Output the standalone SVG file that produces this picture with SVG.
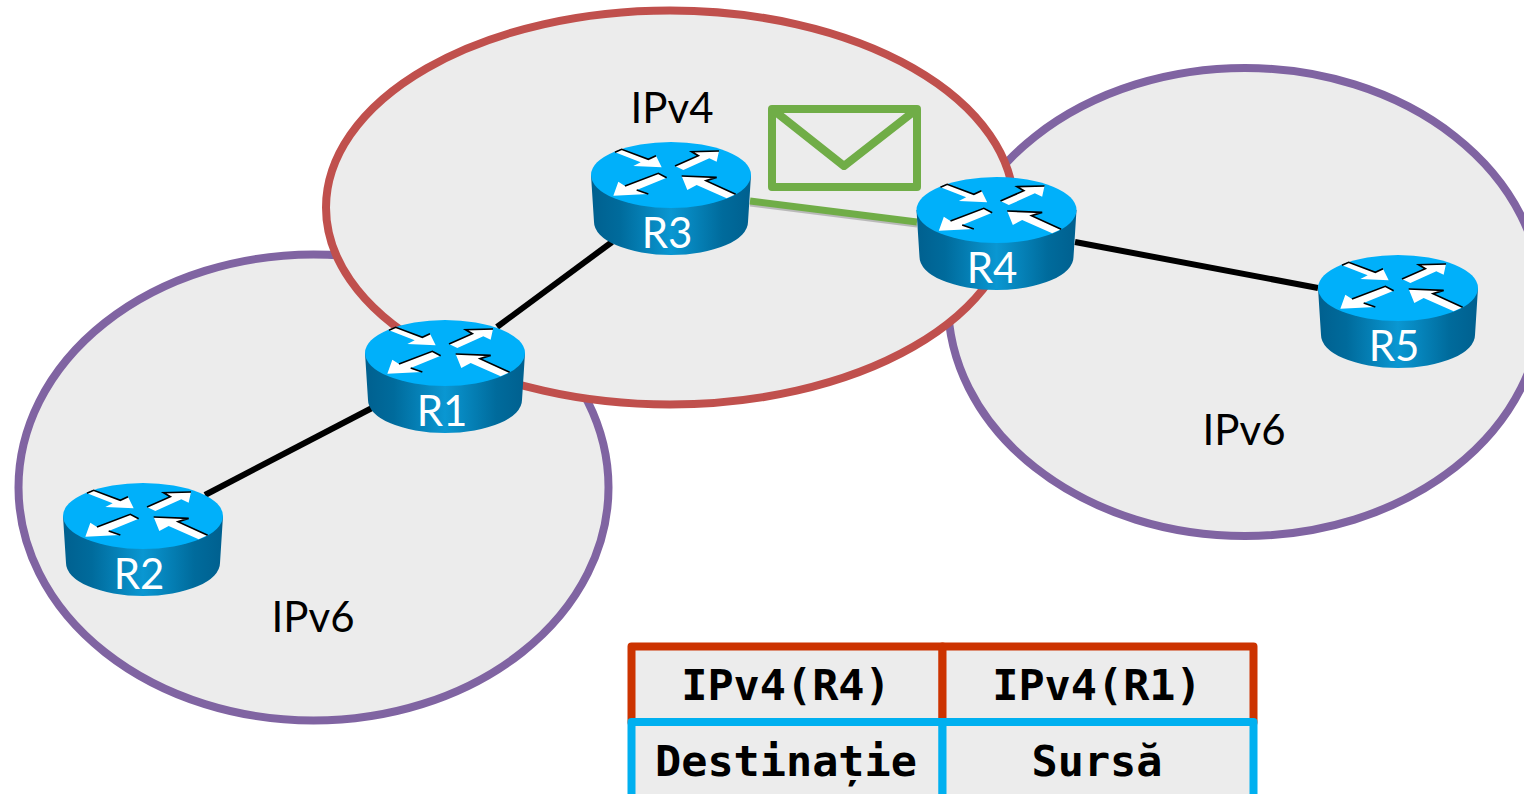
<svg xmlns="http://www.w3.org/2000/svg" width="1524" height="794" viewBox="0 0 1524 794">
<style>
.zone{fill:#ececec;stroke-width:8}
.v6{stroke:#8064a2}
.v4{stroke:#c0504d}
.lbl{font-family:Lato,"Open Sans",sans-serif;font-size:42px;text-anchor:middle;fill:#000}
.rl{font-family:Lato,"Open Sans",sans-serif;font-size:42px;text-anchor:middle;fill:#fff}
.mono{font-family:"DejaVu Sans Mono","Liberation Mono",monospace;font-weight:bold;font-size:43.5px;text-anchor:middle;fill:#000}
.link{stroke:#000;stroke-width:6;fill:none}
.cell{fill:#ececec;stroke-width:8;stroke-linejoin:round}
</style>
<defs>
<linearGradient id="body" x1="0" x2="1" y1="0" y2="0">
<stop offset="0" stop-color="#00608f"/>
<stop offset="0.18" stop-color="#006b9c"/>
<stop offset="0.5" stop-color="#0a97d2"/>
<stop offset="0.82" stop-color="#006b9c"/>
<stop offset="1" stop-color="#00608f"/>
</linearGradient>
<g id="router">
<path d="M-80,0 L-77,47 A77,33 0 0 0 77,47 L80,0 Z" fill="url(#body)"/>
<ellipse cx="0" cy="0" rx="80" ry="33" fill="#00b0fa"/>
<g transform="scale(0.3333) translate(-303,-255)">
<path d="M135,187 L155,178 L235,208 L258,197 L275,232 L190,228 L212,217 Z" fill="#fff"/>
<path d="M135,187 L155,178 L235,208 L258,197" fill="none" stroke="#000" stroke-width="5"/>
<path d="M315,228 L385,197 L365,185 L447,183 L440,215 L418,205 L340,240 Z" fill="#fff"/>
<path d="M315,228 L385,197 L365,185 L447,183" fill="none" stroke="#000" stroke-width="5"/>
<path d="M130,317 L145,275 L165,288 L265,250 L290,263 L200,300 L235,312 Z" fill="#fff"/>
<path d="M165,288 L265,250 L290,263 M200,300 L235,312" fill="none" stroke="#000" stroke-width="5"/>
<path d="M335,258 L440,262 L408,272 L497,313 L470,325 L380,285 L352,300 Z" fill="#fff"/>
<path d="M335,258 L440,262 L408,272 L497,313" fill="none" stroke="#000" stroke-width="5"/>
</g>
</g>
</defs>
<rect width="1524" height="794" fill="#fff"/>
<g id="zones">
<ellipse id="ipv6-left" class="zone v6" cx="313.5" cy="487.5" rx="295" ry="233"/>
<ellipse id="ipv6-right" class="zone v6" cx="1245" cy="302" rx="297" ry="234"/>
<ellipse id="ipv4-zone" class="zone v4" cx="670" cy="207.5" rx="344" ry="197"/>
</g>
<text class="lbl" x="672" y="123">IPv4</text>
<text class="lbl" x="313" y="632">IPv6</text>
<text class="lbl" x="1244" y="445">IPv6</text>
<g id="connectors">
<line class="link" x1="205" y1="495" x2="372" y2="408"/>
<line class="link" x1="497" y1="327" x2="612" y2="242"/>
<line class="link" x1="1075" y1="242" x2="1318" y2="288"/>
<line x1="750" y1="205" x2="917" y2="226" stroke="#888" stroke-width="3" opacity="0.5"/>
<line x1="750" y1="201" x2="917" y2="222" stroke="#70ad47" stroke-width="7"/>
</g>
<g id="envelope" fill="none" stroke="#70ad47" stroke-width="8" stroke-linejoin="round">
<rect x="772" y="109" width="145" height="78"/>
<path d="M772,109 L844,166 L917,109"/>
</g>
<g id="R1"><use href="#router" x="445" y="353"/><text class="rl" x="442" y="426">R1</text></g>
<g id="R2"><use href="#router" x="143" y="516"/><text class="rl" x="139" y="589">R2</text></g>
<g id="R3"><use href="#router" x="671" y="175"/><text class="rl" x="667" y="248">R3</text></g>
<g id="R4"><use href="#router" x="996.5" y="210"/><text class="rl" x="992" y="283">R4</text></g>
<g id="R5"><use href="#router" x="1398" y="288"/><text class="rl" x="1394" y="361">R5</text></g>
<g id="table">
<rect class="cell" x="631.5" y="646.5" width="311" height="76" stroke="#cc3300"/>
<rect class="cell" x="942.5" y="646.5" width="311" height="76" stroke="#cc3300"/>
<rect class="cell" x="631.5" y="722" width="311" height="80" stroke="#00b0f0"/>
<rect class="cell" x="942.5" y="722" width="311" height="80" stroke="#00b0f0"/>
<text class="mono" x="786" y="700">IPv4(R4)</text>
<text class="mono" x="1097" y="700">IPv4(R1)</text>
<text class="mono" x="786" y="776">Destinație</text>
<text class="mono" x="1097" y="776">Sursă</text>
</g>
</svg>
